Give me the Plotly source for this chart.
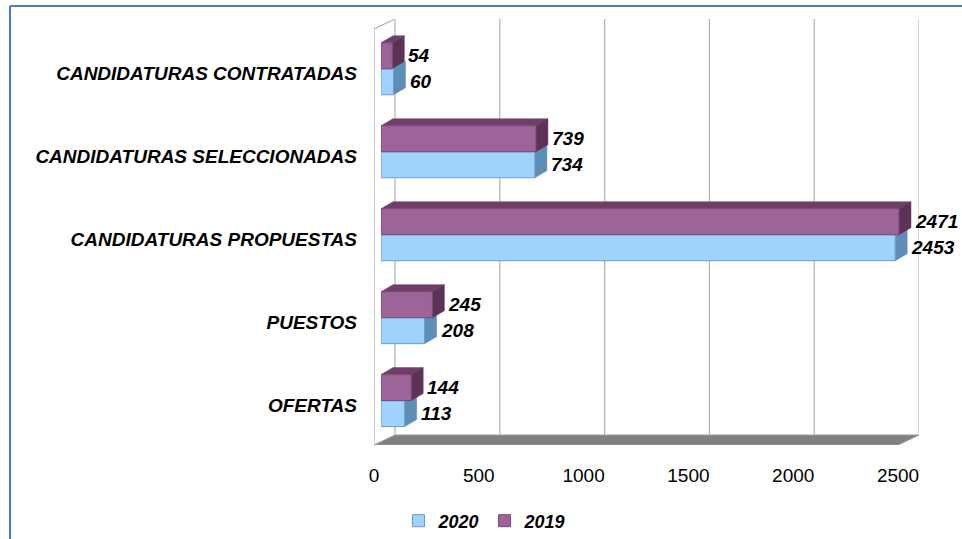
import plotly.graph_objects as go

categories = ["OFERTAS", "PUESTOS", "CANDIDATURAS PROPUESTAS",
              "CANDIDATURAS SELECCIONADAS", "CANDIDATURAS CONTRATADAS"]
values_2020 = [113, 208, 2453, 734, 60]
values_2019 = [144, 245, 2471, 739, 54]
x_ticks = [0, 500, 1000, 1500, 2000, 2500]

W, H = 962, 539
ML, MR, MT, MB = 374, 43, 19, 94
PW = W - ML - MR
PH = H - MT - MB
XR = [0, 2600]
YR = [-0.535, 4.6]
pxu = PW / (XR[1] - XR[0])          # px per x unit
pyu = PH / (YR[1] - YR[0])          # px per y unit

FONT = "Liberation Sans, Arial, sans-serif"
BLUE, BLUE_TOP, BLUE_SIDE, BLUE_EDGE = "#9fd3fd", "#86b6de", "#5e8db5", "#6b9cc6"
PURP, PURP_TOP, PURP_SIDE, PURP_EDGE = "#9d6499", "#6f3f6a", "#5c3357", "#7b4a77"

bar_shift_px = 7
bargap = 0.373
bw = (1 - bargap) / 2
ys = list(range(len(categories)))

fig = go.Figure()
fig.add_trace(go.Bar(name="2020", y=ys, x=values_2020, orientation="h",
                     xaxis="x2", yaxis="y",
                     marker=dict(color=BLUE, line=dict(color=BLUE_EDGE, width=1))))
fig.add_trace(go.Bar(name="2019", y=ys, x=values_2019, orientation="h",
                     xaxis="x2", yaxis="y",
                     marker=dict(color=PURP, line=dict(color=PURP_EDGE, width=1))))

shapes = []
# floor / walls depth
fdx = 21 / pxu
fdy = 10 / pyu
y0 = YR[0]
shapes.append(dict(type="path", xref="x", yref="y", layer="between",
                   path=f"M 0 {y0} L {x_ticks[-1]} {y0} L {x_ticks[-1]+fdx} {y0+fdy} L {fdx} {y0+fdy} Z",
                   fillcolor="#808080", line=dict(color="#9a9a9a", width=1)))
# back wall grid lines
for t in x_ticks:
    shapes.append(dict(type="line", xref="x", yref="y", layer="between",
                       x0=t + fdx, x1=t + fdx, y0=y0 + fdy, y1=YR[1],
                       line=dict(color="#b3b3b3", width=1.2)))
# left wall
ytop_front = YR[1] - fdy
shapes.append(dict(type="path", xref="x", yref="y", layer="between",
                   path=f"M 0 {y0} L 0 {ytop_front} L {fdx} {YR[1]}",
                   line=dict(color="#b3b3b3", width=1.2)))

# 3D faces of bars
bdx = 12 / pxu
bdy = 7 / pyu
annotations = []
for vals, off, top, side in [(values_2020, -bw, BLUE_TOP, BLUE_SIDE),
                             (values_2019, 0.0, PURP_TOP, PURP_SIDE)]:
    for i, v in enumerate(vals):
        yb = ys[i] + off
        yt = yb + bw
        shapes.append(dict(type="path", xref="x2", yref="y", layer="between",
                           path=f"M 0 {yt} L {v} {yt} L {v+bdx} {yt+bdy} L {bdx} {yt+bdy} Z",
                           fillcolor=top, line=dict(color=top, width=0.5)))
        shapes.append(dict(type="path", xref="x2", yref="y", layer="between",
                           path=f"M {v} {yb} L {v} {yt} L {v+bdx} {yt+bdy} L {v+bdx} {yb+bdy} Z",
                           fillcolor=side, line=dict(color=side, width=0.5)))
        annotations.append(dict(xref="x2", yref="y", x=v, y=(yb + yt) / 2,
                                text=f"<b><i>{v}</i></b>", showarrow=False,
                                xanchor="left", yanchor="middle", xshift=14,
                                font=dict(family=FONT, size=19, color="black")))

# blue frame
def px_to_paper_x(px):
    return (px - ML) / PW

def px_to_paper_y(py):
    return (H - MB - py) / PH

shapes.append(dict(type="line", xref="paper", yref="paper", layer="above",
                   x0=px_to_paper_x(10), x1=px_to_paper_x(W + 5),
                   y0=px_to_paper_y(6), y1=px_to_paper_y(6),
                   line=dict(color="#4a7ebb", width=2)))
shapes.append(dict(type="line", xref="paper", yref="paper", layer="above",
                   x0=px_to_paper_x(10), x1=px_to_paper_x(10),
                   y0=px_to_paper_y(6), y1=px_to_paper_y(H + 5),
                   line=dict(color="#4a7ebb", width=2)))

shift = bar_shift_px / PW
fig.update_layout(
    width=W, height=H,
    margin=dict(l=ML, r=MR, t=MT, b=MB, pad=0, autoexpand=False),
    paper_bgcolor="white", plot_bgcolor="rgba(0,0,0,0)",
    barmode="group", bargap=bargap, bargroupgap=0,
    showlegend=True,
    legend=dict(orientation="h", x=px_to_paper_x(485), y=px_to_paper_y(521),
                xanchor="center", yanchor="middle", traceorder="normal",
                font=dict(family=FONT, size=18, color="black", weight="bold", style="italic"),
                itemwidth=30, tracegroupgap=0),
    xaxis=dict(range=XR, domain=[0, 1], tickvals=x_ticks,
               ticktext=[str(t) for t in x_ticks], showgrid=False, zeroline=False,
               showline=False, ticks="", ticklabelstandoff=17,
               tickfont=dict(family=FONT, size=19, color="black"), anchor="y"),
    xaxis2=dict(range=[0, XR[1] * (1 - shift)], domain=[shift, 1], anchor="y",
                visible=False, showgrid=False, zeroline=False),
    yaxis=dict(range=YR, tickvals=ys, ticktext=categories, showgrid=False,
               zeroline=False, showline=False, ticks="", ticklabelstandoff=16,
               ticklabelshift=5,
               tickfont=dict(family=FONT, size=19, color="black", weight="bold", style="italic"),
               anchor="x"),
    shapes=shapes,
    annotations=annotations,
    font=dict(family=FONT),
)

fig.write_html("out.html", config={"displayModeBar": False},
               post_script="document.body.style.margin='0';")
